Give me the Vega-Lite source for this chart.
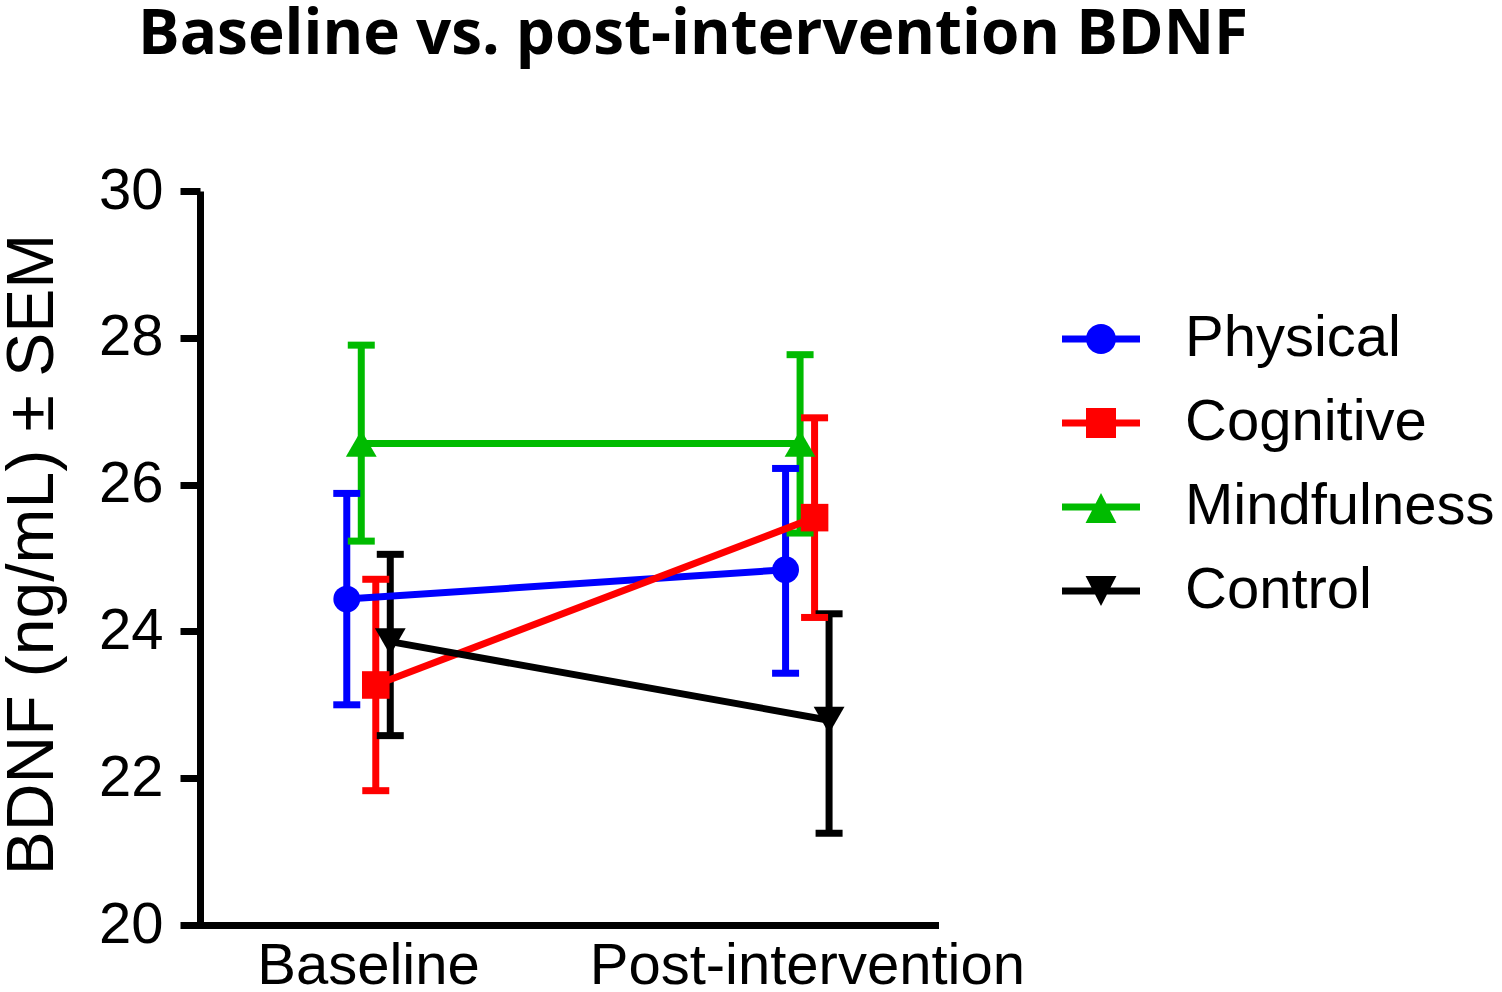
{
  "$schema": "https://vega.github.io/schema/vega-lite/v6.json",
  "autosize": {"type": "none"},
  "width": 735,
  "height": 734,
  "padding": {"left": 200, "top": 191, "right": 567, "bottom": 67},
  "background": "white",
  "title": {
    "text": "Baseline vs. post-intervention BDNF",
    "anchor": "start",
    "frame": "group",
    "font": "Open Sans",
    "fontWeight": "bold",
    "fontSize": 62,
    "color": "black",
    "dx": -62,
    "offset": 95
  },
  "data": {
    "values": [
      {"time": "Baseline", "group": "Physical", "mean": 24.44, "lo": 23.0, "hi": 25.88},
      {"time": "Baseline", "group": "Mindfulness", "mean": 26.56, "lo": 25.23, "hi": 27.9},
      {"time": "Baseline", "group": "Cognitive", "mean": 23.27, "lo": 21.83, "hi": 24.71},
      {"time": "Baseline", "group": "Control", "mean": 23.86, "lo": 22.58, "hi": 25.05},
      {"time": "Post-intervention", "group": "Physical", "mean": 24.84, "lo": 23.43, "hi": 26.22},
      {"time": "Post-intervention", "group": "Mindfulness", "mean": 26.56, "lo": 25.34, "hi": 27.77},
      {"time": "Post-intervention", "group": "Cognitive", "mean": 25.55, "lo": 24.19, "hi": 26.91},
      {"time": "Post-intervention", "group": "Control", "mean": 22.79, "lo": 21.25, "hi": 24.24}
    ]
  },
  "encoding": {
    "x": {
      "field": "time",
      "type": "nominal",
      "sort": ["Baseline", "Post-intervention"],
      "scale": {"domain": ["Baseline", "Post-intervention"], "paddingInner": 0.5, "paddingOuter": 0.0875, "align": 0.766},
      "axis": {
        "title": null,
        "labelAngle": 0,
        "labelFont": "Liberation Sans",
        "labelFontSize": 58,
        "labelColor": "black",
        "labelPadding": 12,
        "labelLimit": 1000,
        "ticks": false,
        "domainColor": "black",
        "domainWidth": 7,
        "domainCap": "square",
        "grid": false
      }
    },
    "xOffset": {
      "field": "group",
      "type": "nominal",
      "scale": {"domain": ["Physical", "Mindfulness", "Cognitive", "Control"], "paddingInner": 0, "paddingOuter": 0, "range": [80.7, 138.7]}
    },
    "color": {
      "field": "group",
      "type": "nominal",
      "scale": {"domain": ["Physical", "Cognitive", "Mindfulness", "Control"], "range": ["#0000FF", "#FF0000", "#00BB00", "#000000"]},
      "legend": {
        "orient": "none",
        "legendX": 872,
        "legendY": 119,
        "title": null,
        "padding": 0,
        "labelFont": "Liberation Sans",
        "labelFontSize": 58,
        "labelColor": "black",
        "labelOffset": 55,
        "labelLimit": 600,
        "rowPadding": 26,
        "symbolSize": 900,
        "symbolStrokeWidth": 0,
        "symbolType": "circle",
        "encode": {
          "symbols": {
            "update": {
              "shape": {"signal": "datum.value === 'Physical' ? 'M-2.6,-0.233 L2.6,-0.233 L2.6,0.233 L-2.6,0.233 Z M1,0 A1,1 0 1,1 -1,0 A1,1 0 1,1 1,0 Z' : datum.value === 'Cognitive' ? 'M-2.6,-0.233 L2.6,-0.233 L2.6,0.233 L-2.6,0.233 Z M-1,-1 L1,-1 L1,1 L-1,1 Z' : datum.value === 'Mindfulness' ? 'M-2.6,-0.233 L2.6,-0.233 L2.6,0.233 L-2.6,0.233 Z M0,-0.93 L1.03,1.07 L-1.03,1.07 Z' : 'M-2.6,-0.233 L2.6,-0.233 L2.6,0.233 L-2.6,0.233 Z M-1.03,-1 L1.03,-1 L0,1 Z'"},
              "fill": {"scale": "color", "field": "value"},
              "fillOpacity": {"value": 1},
              "strokeWidth": {"value": 0},
              "opacity": {"value": 1}
            }
          }
        }
      }
    }
  },
  "layer": [
    {
      "mark": {"type": "rule", "strokeWidth": 7},
      "encoding": {
        "y": {
          "field": "lo",
          "type": "quantitative",
          "scale": {"domain": [20, 30], "nice": false, "zero": false},
          "axis": {
            "title": "BDNF (ng/mL) ± SEM",
            "values": [20, 22, 24, 26, 28, 30],
            "format": "d",
            "grid": false,
            "labelFont": "Liberation Sans",
            "labelFontSize": 58,
            "labelColor": "black",
            "labelPadding": 17,
            "tickSize": 20,
            "tickWidth": 7,
            "tickColor": "black",
            "domainColor": "black",
            "domainWidth": 7,
            "titleFont": "Liberation Sans",
            "titleFontSize": 66,
            "titleFontWeight": "normal",
            "titleColor": "black",
            "titleX": -148,
            "titleY": 363,
            "titleBaseline": "alphabetic",
            "titleAlign": "center",
            "titleAngle": -90
          }
        },
        "y2": {"field": "hi"}
      }
    },
    {
      "mark": {"type": "tick", "orient": "horizontal", "size": 27, "thickness": 7, "opacity": 1},
      "encoding": {"y": {"field": "hi", "type": "quantitative"}}
    },
    {
      "mark": {"type": "tick", "orient": "horizontal", "size": 27, "thickness": 7, "opacity": 1},
      "encoding": {"y": {"field": "lo", "type": "quantitative"}}
    },
    {
      "mark": {"type": "line", "strokeWidth": 7},
      "encoding": {
        "y": {"field": "mean", "type": "quantitative"},
        "detail": {"field": "group"}
      }
    },
    {
      "transform": [{"filter": "datum.group === 'Physical'"}],
      "mark": {"type": "point", "filled": true, "opacity": 1, "size": 720, "shape": "circle"},
      "encoding": {"y": {"field": "mean", "type": "quantitative"}}
    },
    {
      "transform": [{"filter": "datum.group === 'Cognitive'"}],
      "mark": {"type": "point", "filled": true, "opacity": 1, "size": 760, "shape": "square"},
      "encoding": {"y": {"field": "mean", "type": "quantitative"}}
    },
    {
      "transform": [{"filter": "datum.group === 'Mindfulness'"}],
      "mark": {"type": "point", "filled": true, "opacity": 1, "size": 950, "shape": "triangle-up"},
      "encoding": {"y": {"field": "mean", "type": "quantitative"}}
    },
    {
      "transform": [{"filter": "datum.group === 'Control'"}],
      "mark": {"type": "point", "filled": true, "opacity": 1, "size": 950, "shape": "triangle-down"},
      "encoding": {"y": {"field": "mean", "type": "quantitative"}}
    }
  ],
  "config": {
    "view": {"stroke": null},
    "axis": {"labelFlush": false, "labelOverlap": false}
  }
}
